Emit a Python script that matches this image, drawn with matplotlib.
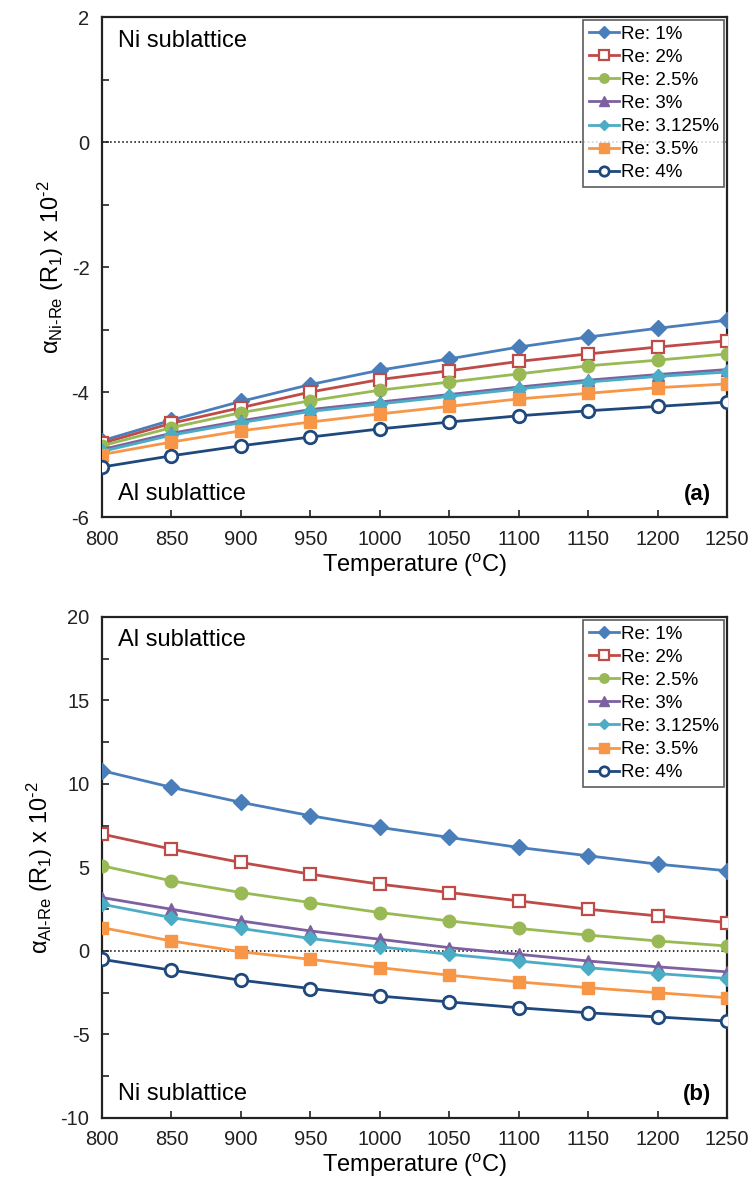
import matplotlib
matplotlib.use("Agg")
import matplotlib.pyplot as plt
from matplotlib.ticker import MultipleLocator

plt.rcParams['font.family'] = ['Liberation Sans', 'DejaVu Sans']
plt.rcParams['mathtext.fontset'] = 'custom'
plt.rcParams['mathtext.rm'] = 'Liberation Sans'
plt.rcParams['mathtext.it'] = 'Liberation Sans:italic'
plt.rcParams['axes.unicode_minus'] = False

temps = [800, 850, 900, 950, 1000, 1050, 1100, 1150, 1200, 1250]
labels = ["Re: 1%", "Re: 2%", "Re: 2.5%", "Re: 3%", "Re: 3.125%", "Re: 3.5%", "Re: 4%"]

ni_re_1 = [-4.78, -4.45, -4.15, -3.88, -3.65, -3.47, -3.28, -3.12, -2.98, -2.85]
ni_re_2 = [-4.82, -4.50, -4.25, -4.00, -3.80, -3.66, -3.51, -3.39, -3.28, -3.18]
ni_re_25 = [-4.86, -4.57, -4.33, -4.14, -3.97, -3.84, -3.71, -3.58, -3.49, -3.39]
ni_re_3 = [-4.92, -4.66, -4.46, -4.28, -4.16, -4.04, -3.92, -3.81, -3.72, -3.64]
ni_re_3125 = [-4.95, -4.69, -4.49, -4.31, -4.19, -4.07, -3.95, -3.84, -3.75, -3.68]
ni_re_35 = [-5.00, -4.80, -4.62, -4.48, -4.35, -4.23, -4.11, -4.02, -3.93, -3.87]
ni_re_4 = [-5.20, -5.02, -4.86, -4.72, -4.59, -4.48, -4.38, -4.30, -4.23, -4.16]

al_re_1 = [10.8, 9.8, 8.9, 8.1, 7.4, 6.8, 6.2, 5.7, 5.2, 4.8]
al_re_2 = [7.0, 6.1, 5.3, 4.6, 4.0, 3.5, 3.0, 2.5, 2.1, 1.7]
al_re_25 = [5.1, 4.2, 3.5, 2.9, 2.3, 1.8, 1.35, 0.95, 0.6, 0.3]
al_re_3 = [3.2, 2.5, 1.8, 1.2, 0.7, 0.2, -0.2, -0.6, -0.95, -1.25]
al_re_3125 = [2.8, 2.0, 1.35, 0.75, 0.25, -0.2, -0.6, -1.0, -1.35, -1.65]
al_re_35 = [1.4, 0.6, -0.05, -0.5, -1.0, -1.45, -1.85, -2.2, -2.5, -2.8]
al_re_4 = [-0.5, -1.15, -1.75, -2.25, -2.7, -3.05, -3.4, -3.7, -3.95, -4.2]

ni_series = [ni_re_1, ni_re_2, ni_re_25, ni_re_3, ni_re_3125, ni_re_35, ni_re_4]
al_series = [al_re_1, al_re_2, al_re_25, al_re_3, al_re_3125, al_re_35, al_re_4]

styles = [
    dict(color='#4a7ebb', marker='D', ms=8, mfc='#4a7ebb', mec='#4a7ebb'),
    dict(color='#be4b48', marker='s', ms=9, mfc='white', mec='#be4b48', mew=1.6),
    dict(color='#98b954', marker='o', ms=9, mfc='#98b954', mec='#98b954'),
    dict(color='#7d60a0', marker='^', ms=9, mfc='#7d60a0', mec='#7d60a0'),
    dict(color='#4bacc6', marker='D', ms=7, mfc='#4bacc6', mec='#4bacc6'),
    dict(color='#f79646', marker='s', ms=9, mfc='#f79646', mec='#f79646'),
    dict(color='#1f497d', marker='o', ms=9, mfc='white', mec='#1f497d', mew=2),
]

fig = plt.figure(figsize=(7.55, 11.98), dpi=100)
ax1 = fig.add_axes([0.135, 0.5684, 0.828, 0.4174])
ax2 = fig.add_axes([0.135, 0.0668, 0.828, 0.4182])

def setup(ax, series, ylim, major, minor, ylabel, top_txt, bot_txt, tag):
    ax.axhline(0, color='black', ls=':', lw=1.1, zorder=1)
    for s, lab, st in zip(series, labels, styles):
        ax.plot(temps, s, lw=2, label=lab, zorder=3, **st)
    ax.set_xlim(800, 1250)
    ax.set_ylim(*ylim)
    ax.xaxis.set_major_locator(MultipleLocator(50))
    ax.yaxis.set_major_locator(MultipleLocator(major))
    ax.yaxis.set_minor_locator(MultipleLocator(minor))
    ax.tick_params(which='both', direction='in', labelsize=14.5, width=1.2, colors='#222222', pad=9)
    ax.tick_params(which='major', length=5)
    ax.tick_params(which='minor', length=5)
    for sp in ax.spines.values():
        sp.set_linewidth(1.6)
        sp.set_color('#222222')
    ax.set_xlabel('Temperature ($\\mathregular{^oC}$)', fontsize=17, labelpad=2)
    ax.set_ylabel(ylabel, fontsize=17, labelpad=4)
    ax.text(0.025, 0.975, top_txt, transform=ax.transAxes, fontsize=17, va='top', ha='left')
    ax.text(0.025, 0.025, bot_txt, transform=ax.transAxes, fontsize=17, va='bottom', ha='left')
    ax.text(0.975, 0.025, tag, transform=ax.transAxes, fontsize=16, va='bottom', ha='right', fontweight='bold')
    leg = ax.legend(loc='upper right', fontsize=13.5, frameon=True, fancybox=False,
                    borderaxespad=0.15, handlelength=1.6, handletextpad=0.1,
                    labelspacing=0.32, borderpad=0.3, markerscale=0.75)
    leg.get_frame().set_edgecolor('#333333')
    leg.get_frame().set_linewidth(1.2)

setup(ax1, ni_series, (-6, 2), 2, 1,
      'α$_{\\mathregular{Ni\u2010Re}}$ (R$_\\mathregular{1}$) x 10$^{\\mathregular{\u20102}}$',
      'Ni sublattice', 'Al sublattice', '(a)')
setup(ax2, al_series, (-10, 20), 5, 2.5,
      'α$_{\\mathregular{Al\u2010Re}}$ (R$_\\mathregular{1}$) x 10$^{\\mathregular{\u20102}}$',
      'Al sublattice', 'Ni sublattice', '(b)')

fig.savefig('out.png', dpi=100)
